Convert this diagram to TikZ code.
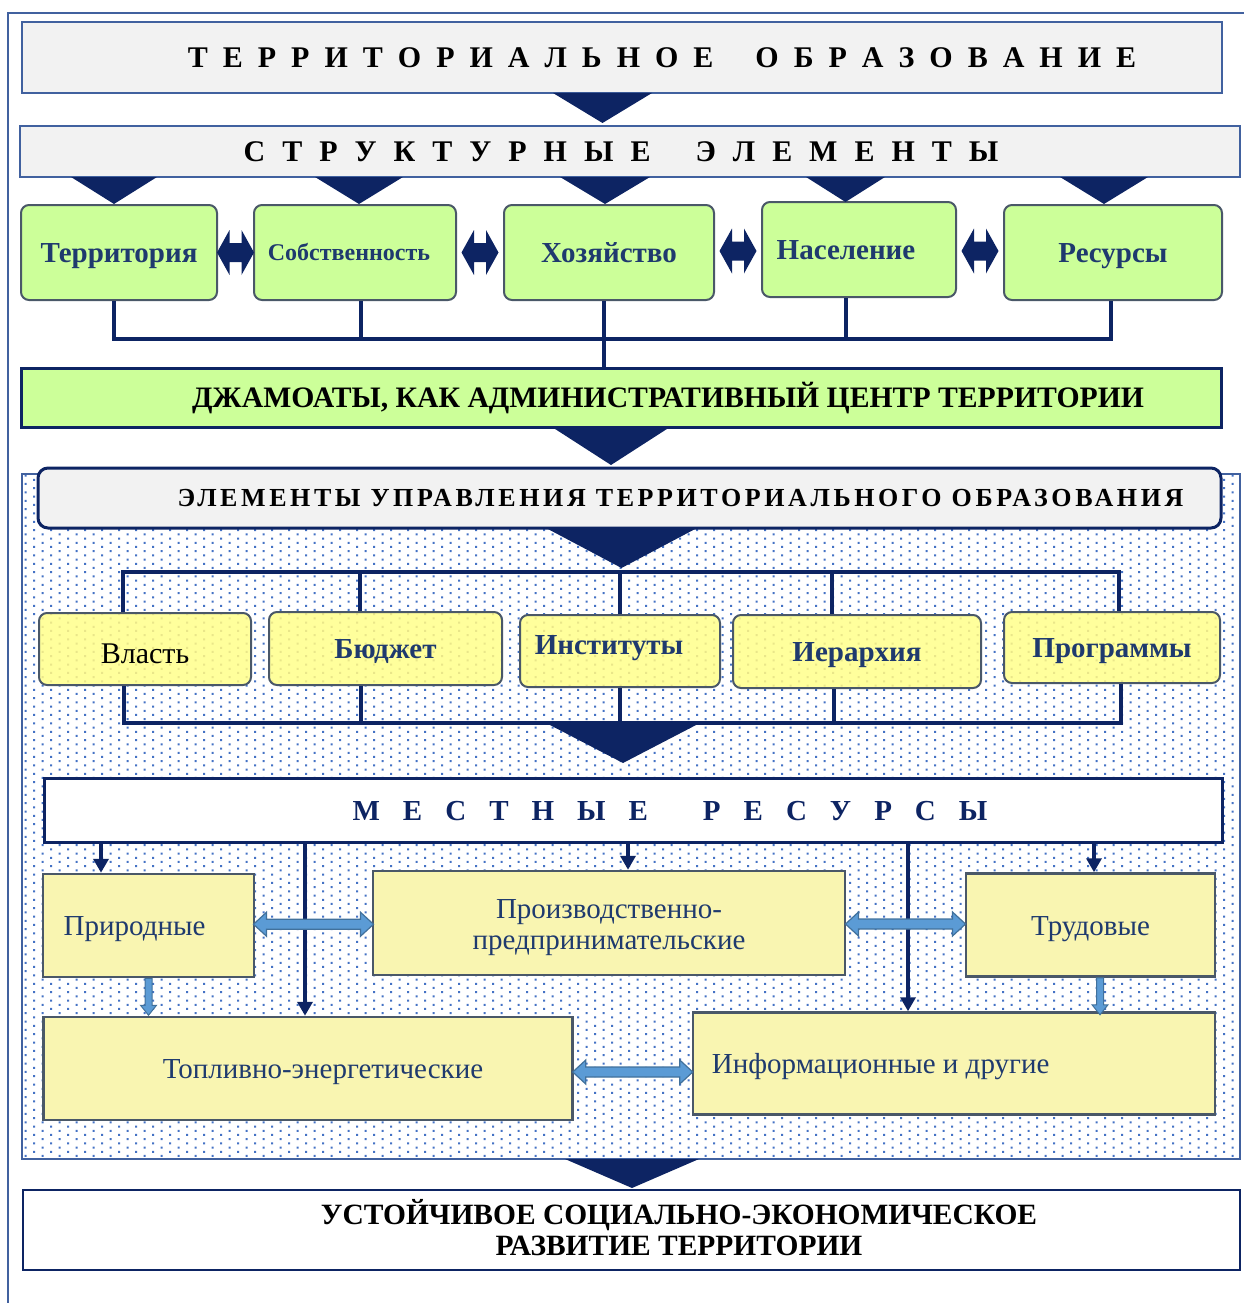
\documentclass[tikz,border=0pt]{standalone}
\usepackage{fontspec}
\setmainfont{Liberation Serif}
\usepackage{tikz}
\usetikzlibrary{calc}
\usetikzlibrary{arrows.meta,patterns}
\definecolor{navyc}{HTML}{0D2463}
\definecolor{frameb}{HTML}{41619F}
\definecolor{txtb}{HTML}{1F3A6E}
\definecolor{grayf}{HTML}{F2F2F2}
\definecolor{greenf}{HTML}{CCFF99}
\definecolor{yellf}{HTML}{FFFF9C}
\definecolor{yelldot}{HTML}{E9E68A}
\definecolor{lowf}{HTML}{F9F5B1}
\definecolor{edgeg}{HTML}{4A5868}
\definecolor{lblue}{HTML}{5B9BD5}
\definecolor{lbedge}{HTML}{41719C}
\definecolor{dotb}{HTML}{4472C4}
% staggered dot raster of the lower block
\pgfdeclarepatternformonly{stagdots}{\pgfqpoint{-1pt}{-1pt}}{\pgfqpoint{10pt}{5.5pt}}{\pgfqpoint{17pt}{8.4pt}}{%
  \pgfpathrectangle{\pgfqpoint{-1pt}{-1pt}}{\pgfqpoint{2pt}{2pt}}%
  \pgfpathrectangle{\pgfqpoint{7.5pt}{3.2pt}}{\pgfqpoint{2pt}{2pt}}%
  \pgfusepath{fill}}
\newcommand*{\spread}[4]{{\spaceskip=#1\relax #2\hspace*{#3}#4}}
\tikzset{
  dblnavy/.pic={\fill[navyc] (-18.5,0) -- (-6,-22.5) -- (-6,-9.5) -- (6,-9.5) -- (6,-22.5) -- (18.5,0)
    -- (6,22.5) -- (6,9.5) -- (-6,9.5) -- (-6,22.5) -- cycle;},
  dblblue/.pic={\filldraw[fill=lblue, draw=lbedge, line width=1.2pt] (-60,0) -- (-47,-12) -- (-47,-5) -- (47,-5)
    -- (47,-12) -- (60,0) -- (47,12) -- (47,5) -- (-47,5) -- (-47,12) -- cycle;},
  downblue/.pic={\filldraw[fill=lblue, draw=lbedge, line width=1pt] (-3.5,0) -- (3.5,0) -- (3.5,27) -- (8,27)
    -- (0,37) -- (-8,27) -- (-3.5,27) -- cycle;}
}

\begin{document}
\begin{tikzpicture}[x=1pt, y=-1pt,
  oneline/.style={text height=#1, text depth=0pt},
  oneline/.default=20pt,
  box/.style={rectangle, inner sep=0pt, align=center},
  greybox/.style={box, draw=frameb, line width=2.5pt, fill=grayf},
  navybox/.style={box, draw=navyc, line width=3pt},
  greenbox/.style={box, oneline, draw=edgeg, line width=2pt, fill=greenf, rounded corners=8pt, minimum height=95pt,
    text=txtb, font=\fontsize{29}{33}\selectfont\bfseries},
  yellbox/.style={box, oneline, draw=edgeg, line width=2pt, preaction={fill=yellf}, pattern=stagdots,
    pattern color=yelldot, rounded corners=8pt, text=txtb, font=\fontsize{29}{33}\selectfont\bfseries},
  lowbox/.style={box, draw=edgeg, line width=2.5pt, fill=lowf, text=txtb, font=\fontsize{29}{31}\selectfont},
  lowtxt/.style={inner sep=0pt, align=center, text=txtb, font=\fontsize{29}{31}\selectfont},
  hdr/.style={inner sep=0pt, align=center, font=\fontsize{30}{34}\selectfont\bfseries},
  link/.style={navyc, line width=3.5pt},
  feed/.style={navyc, line width=3.5pt, -{Triangle[width=15pt,length=14pt]}}]
\useasboundingbox (0,0) rectangle (1244,1303);
\draw[frameb, line width=2.5pt] (8,1303) -- (8,13) -- (1244,13);
\draw[frameb, line width=2pt, pattern=stagdots, pattern color=dotb] (22,474) rectangle (1240,1159);

% top part
\node[greybox, minimum width=1200pt, minimum height=71pt] (obraz) at (622,57.5) {};
\node[hdr, oneline] at ([xshift=40pt]obraz.center) {\spread{15pt}{Т Е Р Р И Т О Р И А Л Ь Н О Е}{42pt}{О Б Р А З О В А Н И Е}};
\node[greybox, minimum width=1220pt, minimum height=51pt] (strukt) at (630,151.5) {};
\node[hdr, oneline] at ([xshift=-9pt]strukt.center) {\spread{17pt}{С Т Р У К Т У Р Н Ы Е}{45pt}{Э Л Е М Е Н Т Ы}};

\node[greenbox, minimum width=196pt] (terr) at (119,252.5) {Территория};
\node[greenbox, minimum width=202pt, oneline=16.5pt, font=\fontsize{24}{28}\selectfont\bfseries] (sobst) at (355,252.5) {};
\node[text=txtb, oneline=16.5pt, font=\fontsize{24}{28}\selectfont\bfseries, inner sep=0pt] at ([xshift=-6pt]sobst.center) {Собственность};
\node[greenbox, minimum width=210pt] (hoz) at (609,252.5) {Хозяйство};
\node[greenbox, minimum width=194pt] (nasel) at (859,249.5) {};
\node[text=txtb, oneline, font=\fontsize{29}{33}\selectfont\bfseries, inner sep=0pt] at ([xshift=-13pt]nasel.center) {Население};
\node[greenbox, minimum width=218pt] (res) at (1113,252.5) {Ресурсы};

\path ($(terr.east)!.5!(sobst.west)$) pic {dblnavy};
\path ($(sobst.east)!.5!(hoz.west)$) pic {dblnavy};
\path ($(hoz.east)!.5!(nasel.west)$) pic {dblnavy};
\path ($(nasel.east)!.5!(res.west)$) pic {dblnavy};

\node[navybox, fill=greenf, minimum width=1200pt, minimum height=59pt] (dzham) at (621,397.5) {};
\node[hdr, oneline, font=\fontsize{29.7}{33}\selectfont\bfseries] at ([xshift=47pt]dzham.center) {ДЖАМОАТЫ, КАК АДМИНИСТРАТИВНЫЙ ЦЕНТР ТЕРРИТОРИИ};

\coordinate (gbus) at (0,339);
\draw[link] ([xshift=-5pt]terr.south) |- ([xshift=-2pt]res.south |- gbus) -- ([xshift=-2pt]res.south);
\foreach \n/\d in {sobst/6, nasel/-13}
  \draw[link] ([xshift=\d pt]\n.south) -- ([xshift=\d pt]\n.south |- gbus);
\draw[link] ([xshift=-5pt]hoz.south) -- ([xshift=-5pt]hoz.south |- dzham.north);

% management block
\node[navybox, fill=grayf, rounded corners=10pt, minimum width=1183pt, minimum height=60pt] (upr) at (629.5,498) {};
\node[hdr, oneline=17.7pt, font=\fontsize{26}{30}\selectfont\bfseries\addfontfeature{LetterSpace=13.8}] at ([xshift=51pt]upr.center) {ЭЛЕМЕНТЫ УПРАВЛЕНИЯ ТЕРРИТОРИАЛЬНОГО ОБРАЗОВАНИЯ};

\node[yellbox, minimum width=212pt, minimum height=72pt] (vlast) at (145,649) {};
\node[oneline, inner sep=0pt, font=\fontsize{30}{33}\selectfont] at ([yshift=-4pt]vlast.center) {Власть};
\node[yellbox, minimum width=233pt, minimum height=73pt] (budzh) at (385.5,648.5) {Бюджет};
\node[yellbox, minimum width=200pt, minimum height=72pt] (inst) at (620,651) {};
\node[text=txtb, oneline, font=\fontsize{29}{33}\selectfont\bfseries, inner sep=0pt] at ([xshift=-11pt, yshift=7pt]inst.center) {Институты};
\node[yellbox, minimum width=248pt, minimum height=73pt] (ierar) at (857,651.5) {Иерархия};
\node[yellbox, minimum width=216pt, minimum height=71pt] (progr) at (1112,647.5) {Программы};

\coordinate (ytop) at (0,572);
\coordinate (ybot) at (0,723);
\draw[link] ([xshift=-22pt]vlast.north) |- ([xshift=7pt]progr.north |- ytop) -- ([xshift=7pt]progr.north);
\foreach \n/\d in {budzh/-25.5, inst/0, ierar/-25}
  \draw[link] ([xshift=\d pt]\n.north) -- ([xshift=\d pt]\n.north |- ytop);
\draw[link] ([xshift=-21pt]vlast.south) |- ([xshift=9pt]progr.south |- ybot) -- ([xshift=9pt]progr.south);
\foreach \n/\d in {budzh/-24.5, inst/0, ierar/-23}
  \draw[link] ([xshift=\d pt]\n.south) -- ([xshift=\d pt]\n.south |- ybot);

% local resources
\node[navybox, fill=white, minimum width=1178pt, minimum height=64pt] (mest) at (633,810) {};
\node[hdr, oneline, text=navyc, font=\fontsize{29}{33}\selectfont\bfseries] at ([xshift=37pt]mest.center) {\spread{23pt}{М Е С Т Н Ы Е}{55pt}{Р Е С У Р С Ы}};

\node[lowbox, minimum width=211pt, minimum height=103pt] (prir) at (148.5,925.5) {};
\node[lowtxt, oneline] at ([xshift=-14pt]prir.center) {Природные};
\node[lowbox, minimum width=472pt, minimum height=104pt] (proizv) at (609,923) {};
\node[lowtxt] at ([yshift=-4.5pt]proizv.center) {Производственно-\\предпринимательские};
\node[lowbox, oneline, minimum width=249pt, minimum height=103pt] (trud) at (1090.5,925) {Трудовые};
\node[lowbox, minimum width=529pt, minimum height=103pt] (topl) at (308,1068.5) {};
\node[lowtxt, oneline] at ([xshift=15pt]topl.center) {Топливно-энергетические};
\node[lowbox, minimum width=522pt, minimum height=102pt] (inform) at (954,1063.5) {};
\node[lowtxt, oneline, anchor=west] at ([xshift=20pt]inform.west) {Информационные и другие};

\draw[feed] ([xshift=-47.5pt]prir.north |- mest.south) -- ([xshift=-47.5pt]prir.north);
\draw[feed] ([xshift=-3pt]topl.north |- mest.south) -- ([xshift=-3pt]topl.north);
\draw[feed] ([xshift=19pt]proizv.north |- mest.south) -- ([xshift=19pt]proizv.north);
\draw[feed] ([xshift=-46pt]inform.north |- mest.south) -- ([xshift=-46pt]inform.north);
\draw[feed] ([xshift=3.5pt]trud.north |- mest.south) -- ([xshift=3.5pt]trud.north);

\path ($(prir.east)!.5!(proizv.west)$) pic {dblblue};
\path ($(proizv.east)!.5!(trud.west)$) pic {dblblue};
\path ([yshift=-6pt]$(topl.east)!.5!(inform.west)$) pic {dblblue};
\path (prir.south) pic {downblue};
\path ([xshift=9.5pt]trud.south) pic {downblue};

% result
\node[box, draw=navyc, line width=2.5pt, fill=white, minimum width=1217pt, minimum height=80pt] (ustoich) at (631.5,1230) {};
\node[hdr, font=\fontsize{29.45}{31}\selectfont\bfseries] at ([xshift=47.5pt, yshift=2pt]ustoich.center) {УСТОЙЧИВОЕ СОЦИАЛЬНО-ЭКОНОМИЧЕСКОЕ\\РАЗВИТИЕ ТЕРРИТОРИИ};

% pointers
\foreach \a/\b/\t/\p in {553/652/93/123, 71/157/177/204, 315/403/177/204, 560/650/177/204, 806/885/177/202,
    1060/1148/177/204, 552/670/427/465, 546/697/528/568, 548/698/724/763, 565/699/1159/1188}
  \fill[navyc] (\a,\t) -- (\b,\t) -- ({(\a+\b)/2},\p) -- cycle;
\end{tikzpicture}
\end{document}
